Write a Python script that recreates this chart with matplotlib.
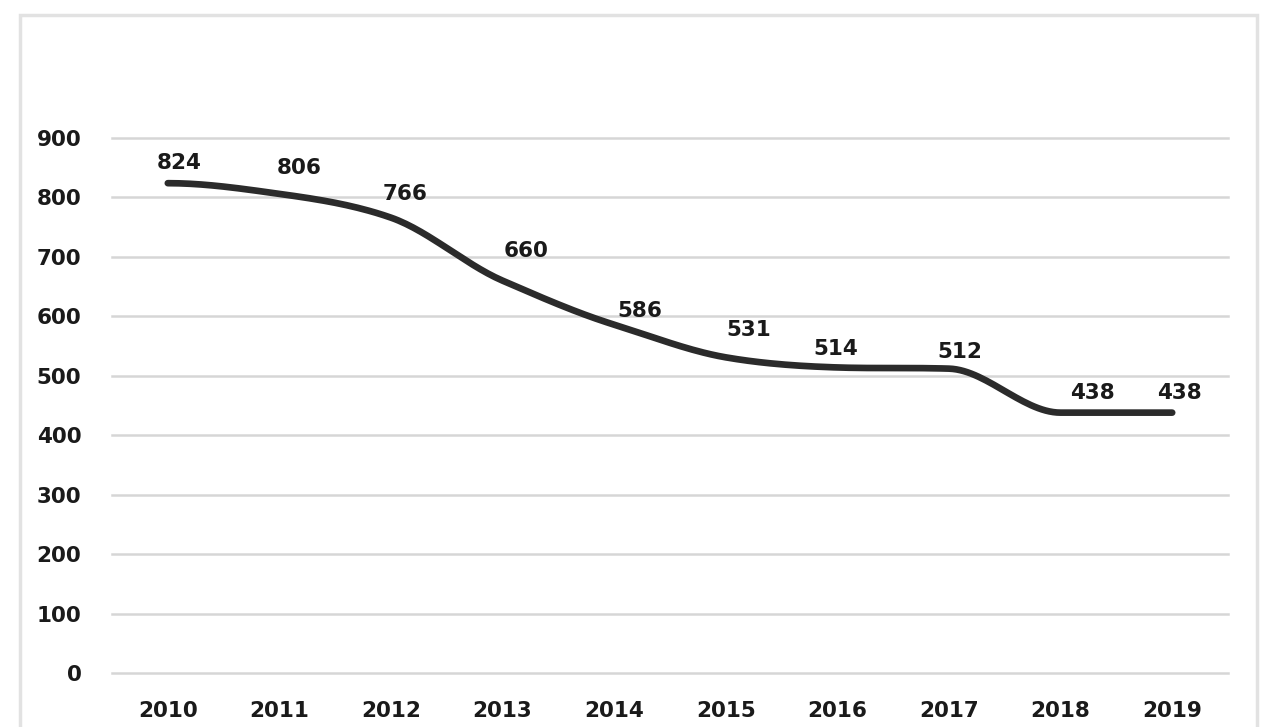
import numpy as np
import matplotlib.pyplot as plt
from matplotlib.patches import Rectangle

# data
years = ['2010', '2011', '2012', '2013', '2014', '2015', '2016', '2017', '2018', '2019']
values = [824, 806, 766, 660, 586, 531, 514, 512, 438, 438]
yticks = [0, 100, 200, 300, 400, 500, 600, 700, 800, 900]

# label nudges (pixels) so the value labels sit where they do in the original
label_dx = [11, 20, 14, 23, 26, 23, -2, 11, 32, 7]
label_dy = [20, 26, 24, 30, 14, 27, 18, 17, 20, 20]


def smooth(xs, ys, n=30, k=0.45):
    # low tension hermite path through the points, limited so it does not overshoot
    xs = np.asarray(xs, float)
    ys = np.asarray(ys, float)
    m = np.zeros_like(ys)
    for i in range(1, len(ys) - 1):
        d0 = ys[i] - ys[i - 1]
        d1 = ys[i + 1] - ys[i]
        if d0 * d1 > 0:
            lim = 3 * min(abs(d0), abs(d1))
            m[i] = np.sign(d0) * min(abs(k * (d0 + d1)), lim)
    out_x, out_y = [], []
    for i in range(len(xs) - 1):
        t = np.linspace(0, 1, n, endpoint=False)
        h00 = 2 * t ** 3 - 3 * t ** 2 + 1
        h10 = t ** 3 - 2 * t ** 2 + t
        h01 = -2 * t ** 3 + 3 * t ** 2
        h11 = t ** 3 - t ** 2
        out_x.extend(xs[i] + t * (xs[i + 1] - xs[i]))
        out_y.extend(h00 * ys[i] + h10 * m[i] + h01 * ys[i + 1] + h11 * m[i + 1])
    out_x.append(xs[-1])
    out_y.append(ys[-1])
    return out_x, out_y


plt.rcParams['font.family'] = ['DejaVu Sans']

fig = plt.figure(figsize=(12.7, 7.27), dpi=100)
ax = fig.add_axes([112 / 1270, 1 - 673 / 727, (1228 - 112) / 1270, (673 - 138) / 727])

# outer chart border
fig.patches.append(Rectangle((20 / 1270, -0.05), (1257 - 20) / 1270, 1.05 - 15 / 727,
                             transform=fig.transFigure, fill=False,
                             edgecolor='#e2e2e2', linewidth=2.5))

x = np.arange(len(years))
sx, sy = smooth(x, values)
ax.plot(sx, sy, color='#2b2b2b', linewidth=4.8, solid_capstyle='round', zorder=3)

for xi, v, dx, dy in zip(x, values, label_dx, label_dy):
    ax.annotate(str(v), (xi, v), xytext=(dx * 0.72, dy * 0.72), textcoords='offset points',
                ha='center', va='center', fontsize=15.5, fontweight='bold', color='#1a1a1a')

ax.set_xlim(-0.5, len(years) - 0.5)
ax.set_ylim(0, 900)
ax.set_yticks(yticks)
ax.set_xticks(x)
ax.set_xticklabels(years)
ax.grid(axis='y', color='#d6d6d6', linewidth=1.8)
for gl in ax.get_ygridlines():
    gl.set_clip_on(False)
ax.set_axisbelow(True)
for s in ax.spines.values():
    s.set_visible(False)
ax.tick_params(length=0, labelsize=15.5, colors='#1a1a1a', pad=20)
ax.tick_params(axis='y', pad=22)
for lab in ax.get_xticklabels() + ax.get_yticklabels():
    lab.set_fontweight('bold')

fig.savefig('out.png', dpi=100)
